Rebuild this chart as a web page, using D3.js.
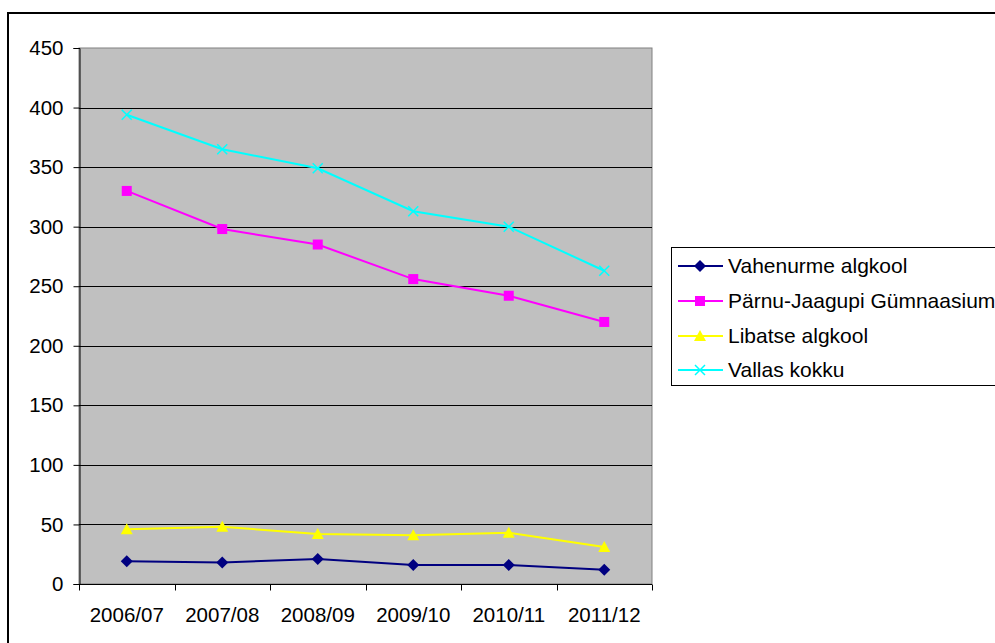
<!DOCTYPE html>
<html><head><meta charset="utf-8">
<script src="https://cdn.jsdelivr.net/npm/d3@7/dist/d3.min.js"></script>
<style>html,body{margin:0;padding:0;background:#fff;overflow:hidden}</style>
</head><body>
<svg id="c" width="995" height="643"></svg>
<script>
const categories = ["2006/07","2007/08","2008/09","2009/10","2010/11","2011/12"];
const seriesNames = ["Vahenurme algkool","Pärnu-Jaagupi Gümnaasium","Libatse algkool","Vallas kokku"];
const vahenurme = [19,18,21,16,16,12];
const parnu = [330,298,285,256,242,220];
const libatse = [46,48,42,41,43,31];
const vallas = [394,365,349,313,300,263];
const yTicks = [0,50,100,150,200,250,300,350,400,450];

const series = [
  {name: seriesNames[0], values: vahenurme, color: "#000080", marker: "diamond"},
  {name: seriesNames[1], values: parnu, color: "#FF00FF", marker: "square"},
  {name: seriesNames[2], values: libatse, color: "#FFFF00", marker: "triangle"},
  {name: seriesNames[3], values: vallas, color: "#00FFFF", marker: "cross"}
];

const svg = d3.select("#c");
const font = "'Liberation Sans', Arial, sans-serif";
const L = 79, R = 652, T = 48, B = 584;

// outer frame
svg.append("rect").attr("x",8).attr("y",13).attr("width",1100).attr("height",700)
  .attr("fill","#fff").attr("stroke","#000").attr("stroke-width",2);

const x = d3.scaleBand().domain(categories).range([L,R]);
const y = d3.scaleLinear().domain([0,450]).range([B,T]);

svg.append("rect").attr("x",L).attr("y",T).attr("width",R-L).attr("height",B-T)
  .attr("fill","#C0C0C0").attr("stroke","#808080").attr("stroke-width",1);

// gridlines
svg.append("g").selectAll("line").data(yTicks.filter(d=>d>0 && d<450)).join("line")
  .attr("x1",L).attr("x2",R).attr("y1",d=>Math.round(y(d))+0.5).attr("y2",d=>Math.round(y(d))+0.5)
  .attr("stroke","#000").attr("stroke-width",1);

// y axis
const yAxis = d3.axisLeft(y).tickValues(yTicks).tickSize(6).tickPadding(10).tickFormat(d3.format("d"));
const gy = svg.append("g").attr("transform",`translate(${L+0.5},0)`).call(yAxis);
gy.selectAll("text").attr("font-family",font).attr("font-size",20.5).attr("fill","#000");
gy.selectAll("line,path").attr("stroke","#000");

// x axis with ticks at band boundaries
const gx = svg.append("g").attr("transform",`translate(0,${B+0.5})`);
gx.append("line").attr("x1",L).attr("x2",R).attr("stroke","#000");
gx.selectAll(".tk").data(categories.concat(["__end"])).join("line")
  .attr("x1",(d,i)=>Math.round(L+i*x.bandwidth())+0.5).attr("x2",(d,i)=>Math.round(L+i*x.bandwidth())+0.5)
  .attr("y1",0).attr("y2",6).attr("stroke","#000");
gx.selectAll("text").data(categories).join("text")
  .attr("x",d=>x(d)+x.bandwidth()/2).attr("y",37)
  .attr("text-anchor","middle").attr("font-family",font).attr("font-size",20.5).attr("fill","#000")
  .text(d=>d);

function drawMarker(g, type, color, cx, cy){
  if(type==="diamond"){
    g.append("path").attr("d",`M${cx},${cy-6}L${cx+6},${cy}L${cx},${cy+6}L${cx-6},${cy}Z`).attr("fill",color);
  } else if(type==="square"){
    g.append("rect").attr("x",cx-5).attr("y",cy-5).attr("width",10).attr("height",10).attr("fill",color);
  } else if(type==="triangle"){
    g.append("path").attr("d",`M${cx},${cy-6}L${cx+6},${cy+5}L${cx-6},${cy+5}Z`).attr("fill",color);
  } else {
    g.append("path").attr("d",`M${cx-5},${cy-5}L${cx+5},${cy+5}M${cx+5},${cy-5}L${cx-5},${cy+5}`)
      .attr("stroke",color).attr("stroke-width",1.5).attr("fill","none");
  }
}

const line = d3.line().x((d,i)=>x(categories[i])+x.bandwidth()/2).y(d=>y(d));
series.forEach(s=>{
  const g = svg.append("g");
  g.append("path").attr("d",line(s.values)).attr("fill","none").attr("stroke",s.color).attr("stroke-width",2);
  s.values.forEach((v,i)=>drawMarker(g,s.marker,s.color,x(categories[i])+x.bandwidth()/2,y(v)));
});

// legend
const lg = svg.append("g");
lg.append("rect").attr("x",671.5).attr("y",247.5).attr("width",400).attr("height",138)
  .attr("fill","#fff").attr("stroke","#000").attr("stroke-width",1);
const rowY = [266,301,336,370];
series.forEach((s,i)=>{
  lg.append("line").attr("x1",678).attr("x2",723).attr("y1",rowY[i]).attr("y2",rowY[i])
    .attr("stroke",s.color).attr("stroke-width",2);
  drawMarker(lg,s.marker,s.color,700,rowY[i]);
  lg.append("text").attr("x",728).attr("y",rowY[i]).attr("dy","0.35em")
    .attr("font-family",font).attr("font-size",21).attr("fill","#000").text(s.name);
});
</script>
</body></html>
